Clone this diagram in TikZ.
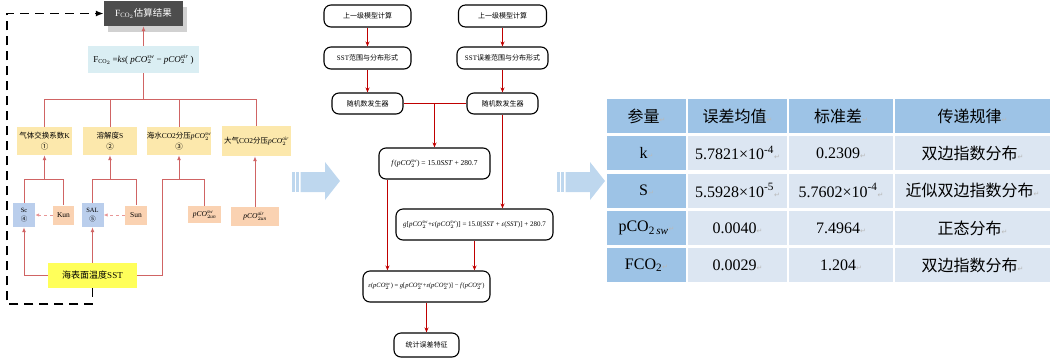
\documentclass[tikz,border=0pt]{standalone}
\usepackage{amsmath}
\usepackage{fontspec}
\setmainfont{Liberation Serif}
\newfontfamily\zh{Noto Sans CJK SC}
\newfontfamily\dejavu{DejaVu Sans}
\usepackage{xcolor}
\usepackage{tikz}
\usetikzlibrary{arrows.meta, positioning, calc, shadows}
\definecolor{resgray}{RGB}{77, 77, 77}
\definecolor{formcyan}{RGB}{218, 238, 243}
\definecolor{boxyellow}{RGB}{252, 232, 172}
\definecolor{smallblue}{RGB}{186, 206, 236}
\definecolor{peach}{RGB}{250, 210, 178}
\definecolor{sstyellow}{RGB}{255, 255, 90}
\definecolor{linered}{RGB}{208, 100, 100}
\definecolor{dashpink}{RGB}{232, 150, 150}
\definecolor{darkred}{RGB}{192, 0, 0}
\definecolor{headblue}{RGB}{157, 195, 230}
\definecolor{cellblue}{RGB}{220, 230, 242}
\definecolor{pale}{RGB}{190, 215, 238}
\newcommand{\crmark}{{\dejavu\color{gray!55}\fontsize{7}{7}\selectfont ↵}}
\newcommand{\pco}[1]{\textit{pCO}$_2^{\textit{#1}}$}
\newcommand{\vep}{\textit{ε}}

\begin{document}
\begin{tikzpicture}[x=1pt, y=-1pt, >=Latex,
  resbox/.style={fill=resgray, text=white, inner sep=0pt, minimum width=79pt,
    minimum height=25pt, font=\fontsize{9.5}{11}\selectfont},
  formbox/.style={fill=formcyan, inner sep=0pt, minimum width=111pt,
    minimum height=27pt, font=\fontsize{9}{11}\selectfont},
  yel/.style={fill=boxyellow, inner sep=0pt, align=center, minimum height=28pt,
    font=\fontsize{7.5}{11}\selectfont},
  bluebox/.style={fill=smallblue, inner sep=0pt, align=center, minimum width=22pt,
    minimum height=24pt, font=\fontsize{6.5}{9}\selectfont},
  orgbox/.style={fill=peach, inner sep=0pt, minimum height=19pt,
    font=\fontsize{7.5}{8}\selectfont},
  sstbox/.style={fill=sstyellow, inner sep=0pt, minimum width=89pt,
    minimum height=25pt, font=\fontsize{9}{11}\selectfont},
  rline/.style={draw=linered, line width=1pt},
  rarr/.style={rline, -{Latex[length=5pt, width=4pt]}},
  pinkarr/.style={draw=dashpink, line width=1pt, dashed, -{Latex[length=4pt, width=3.5pt]}},
  fb/.style={draw=black, line width=1.8pt, dash pattern=on 9pt off 6pt,
    -{Latex[length=8pt, width=6pt]}},
  flow/.style={draw=black, line width=1.1pt, rounded corners=7pt, fill=white,
    inner sep=0pt, font=\fontsize{7}{8}\selectfont},
  mline/.style={draw=darkred, line width=1.2pt},
  marr/.style={mline, -{Stealth[length=5pt, width=4pt]}},
  thead/.style={fill=headblue, inner sep=0pt, minimum height=34pt,
    font=\fontsize{16}{18}\selectfont},
  tcell/.style={fill=cellblue, inner sep=0pt, minimum height=34pt,
    font=\fontsize{16}{18}\selectfont}]
  \useasboundingbox (0,0) rectangle (1052,360);

  % Flux model
  \node[resbox, drop shadow={shadow xshift=4pt, shadow yshift=-6pt, fill=black!18, opacity=1}]
    (res) at (143.5,13.5) {F$_{\text{CO}_2}${\zh 估算结果}};
  \node[formbox] (form) at (143.5,59.5) {F$_{\text{CO}_2}$\,=\textit{ks}( \pco{sw} − \pco{air} )};
  \node[yel, minimum width=55pt] (k) at (44.5,141) {{\zh 气体交换系数}K\\{\zh ①}};
  \node[yel, minimum width=54pt] (s) at (110,141) {{\zh 溶解度}S\\{\zh ②}};
  \node[yel, minimum width=58pt] (sw) at (179,141) {{\zh 海水}CO2{\zh 分压}\pco{sw}\\{\zh ③}};
  \node[yel, minimum width=69pt, minimum height=30pt] (air) at (256.5,141)
    {{\zh 大气}CO2{\zh 分压}\pco{air}};

  \node[bluebox] (sc) at (24,215) {Sc\\{\zh ④}};
  \node[orgbox, minimum width=21pt] (kun) at (63.5,215) {Kun};
  \node[bluebox] (sal) at (92.5,215) {SAL\\{\zh ⑤}};
  \node[orgbox, minimum width=22pt] (sun) at (136,215) {Sun};
  \node[orgbox, minimum width=33pt, minimum height=17pt] (psw) at (204.5,214.5)
    {\textit{pCO}$_{2\textit{un}}^{\textit{sw}}$};
  \node[orgbox, minimum width=48pt] (pair) at (255,216.5)
    {\textit{pCO}$_{2\textit{un}}^{\textit{air}}$};
  \node[sstbox] (sst) at (92.5,275.5) {{\zh 海表面温度}SST};

  \coordinate (bus) at (0,99);
  \coordinate (sub) at (0,179);
  \coordinate (swbus) at (162,179);
  \coordinate (loop) at (7,304);

  \draw[rarr] (form) -- (res);
  \draw[rline] (form.south) -- (form.south |- bus);
  \draw[rline] (k.north) |- (bus -| air.north) -- (air.north);
  \foreach \n in {s, sw}
    \draw[rline] (\n.north) -- (\n.north |- bus);

  \draw[rline] (sc.north) |- (sub -| kun.north) -- (kun.north);
  \draw[rline] (sal.north) |- (sub -| sun.north) -- (sun.north);
  \draw[rline] (sst.east) -| (swbus) -| (psw.north);
  \foreach \n in {k, s, sw}
    \draw[rarr] (\n.south |- sub) -- (\n.south);
  \draw[rarr] (pair.north) -- (pair.north |- air.south);
  \draw[pinkarr] (kun.west) -- (kun.west -| sc.east);
  \draw[pinkarr] (sun.west) -- (sun.west -| sal.east);
  \draw[rarr] (sst.west) -| (sc.south);
  \draw[rarr] (sst.north) -- (sal.south);

  % Feedback loop
  \draw[fb] (sst.south) |- (loop) |- (res.west);

  % Arrows between panels
  \foreach \x in {292, 557} {
    \fill[pale] (\x,172) rectangle ++(2.7,20);
    \fill[pale] (\x+4.3,172) rectangle ++(2.7,20);
    \fill[pale] (\x+8.6,172) -- (\x+33,172) -- (\x+33,162) -- (\x+48,181)
      -- (\x+33,200) -- (\x+33,192) -- (\x+8.6,192) -- cycle;
  }

  % Error propagation
  \node[flow, minimum width=87pt, minimum height=22pt] (a1) at (367.5,16) {{\zh 上一级模型计算}};
  \node[flow, minimum width=87pt, minimum height=22pt] (a2) at (367.5,58) {SST{\zh 范围与分布形式}};
  \node[flow, minimum width=71pt, minimum height=21pt] (a3) at (367.5,103.5) {{\zh 随机数发生器}};
  \node[flow, minimum width=88pt, minimum height=22pt] (b1) at (502.5,16) {{\zh 上一级模型计算}};
  \node[flow, minimum width=91pt, minimum height=22pt] (b2) at (502.5,58) {SST{\zh 误差范围与分布形式}};
  \node[flow, minimum width=71pt, minimum height=21pt] (b3) at (502.5,103.5) {{\zh 随机数发生器}};
  \node[flow, minimum width=111pt, minimum height=31pt, font=\fontsize{7.5}{9}\selectfont] (f) at (434.5,163.5)
    {\textit{f}(\pco{sw}) = 15.0\textit{SST} + 280.7};
  \node[flow, minimum width=157pt, minimum height=31pt, font=\fontsize{7}{9}\selectfont] (g) at (474.5,224.5)
    {\textit{g}[\pco{sw}+\vep(\pco{sw})] = 15.0[\textit{SST} + \vep(\textit{SST})] + 280.7};
  \node[flow, minimum width=127pt, minimum height=31pt, font=\fontsize{6.5}{8}\selectfont] (e) at (426.5,286.5)
    {\vep(\pco{sw}) = \textit{g}[\pco{sw}+\vep(\pco{sw})] − \textit{f}(\pco{sw})};
  \node[flow, minimum width=65pt, minimum height=24pt] (h) at (426.5,345) {{\zh 统计误差特征}};

  \draw[marr] (a1) -- (a2);
  \draw[marr] (a2) -- (a3);
  \draw[marr] (b1) -- (b2);
  \draw[marr] (b2) -- (b3);
  \draw[mline] (a3) -- (b3);
  \draw[marr] (f.north |- a3.east) -- (f.north);
  \draw[marr] (b3.south) -- (b3.south |- g.north);
  \coordinate (fout) at ($(f.south west)+(9,0)$);
  \draw[marr] (fout) -- (fout |- e.north);
  \draw[marr] (g.south) -- (g.south |- e.north);
  \draw[marr] (e) -- (h);

  % Table
  \foreach \x/\w/\t [count=\c] in {646.5/79/参量, 737.5/99/误差均值, 841/104/标准差, 972.5/155/传递规律}
    \node[thead, minimum width=\w pt] (t\c) at (\x,116) {{\zh \t}\crmark};
  \foreach \y/\p/\m/\s/\d [count=\r] in {
      153/k/5.7821×10\textsuperscript{-4}/0.2309/双边指数分布,
      190.5/S/5.5928×10\textsuperscript{-5}/5.7602×10\textsuperscript{-4}/近似双边指数分布,
      228/pCO\textsubscript{2\,\textit{sw}}/0.0040/7.4964/正态分布,
      265/FCO\textsubscript{2}/0.0029/1.204/双边指数分布} {
    \node[thead, minimum width=79pt] (p\r) at (646.5,\y) {\p\crmark};
    \node[tcell, minimum width=99pt] (m\r) at (737.5,\y) {\m\crmark};
    \node[tcell, minimum width=104pt] (s\r) at (841,\y) {\s\crmark};
    \node[tcell, minimum width=155pt] (d\r) at (972.5,\y) {{\zh \d}\crmark};
  }
\end{tikzpicture}
\end{document}
